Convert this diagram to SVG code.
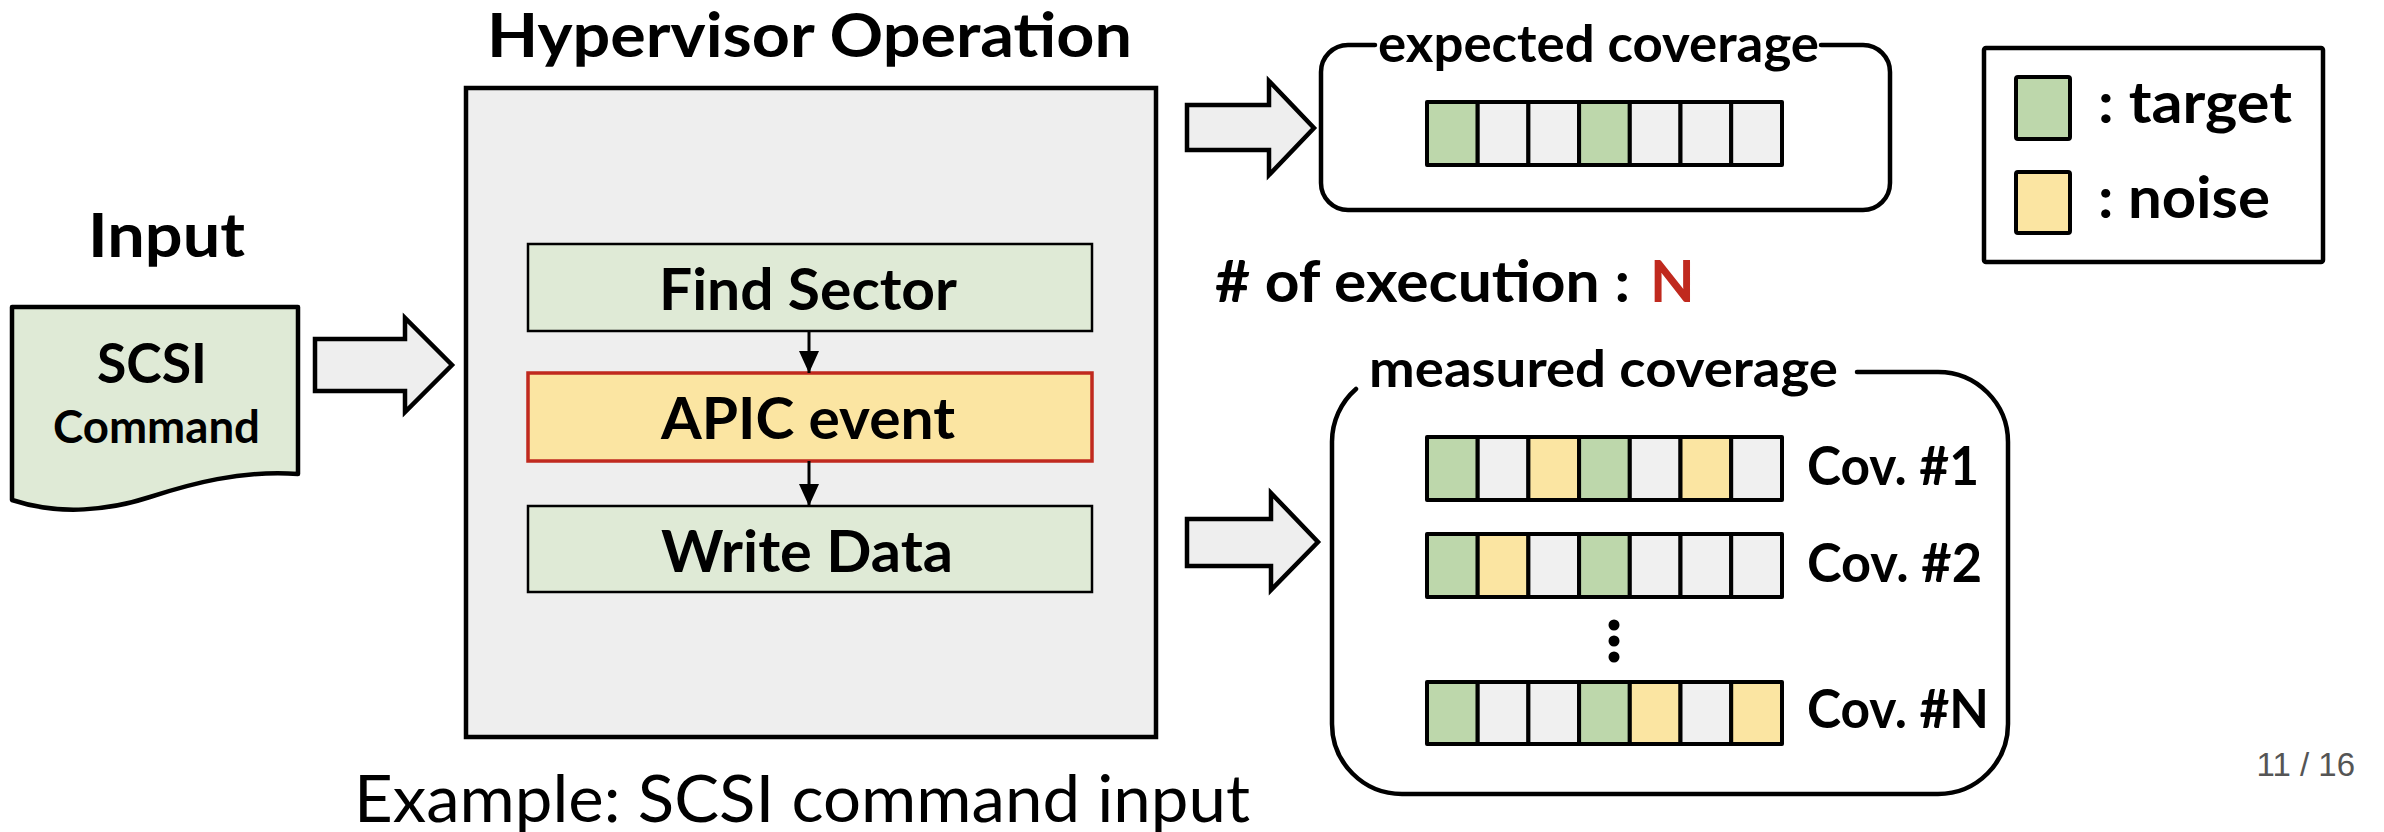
<svg xmlns="http://www.w3.org/2000/svg" width="2384" height="832" viewBox="0 0 2384 832">
<defs>
<style>
.t{font-family:Lato,"Open Sans","DejaVu Sans",sans-serif;font-weight:700;fill:#000}
.r{font-family:Lato,"Open Sans","DejaVu Sans",sans-serif;font-weight:400;fill:#000}
.blk{fill:#eeeeee;stroke:#000;stroke-width:4.5;stroke-linejoin:miter}
.step{fill:#dfead6;stroke:#000;stroke-width:2.5}
.cell{stroke:#000;stroke-width:4;stroke-linejoin:round}
.g{fill:#bdd7ab}
.y{fill:#fbe5a2}
.e{fill:#f0f0f0}
.frame{fill:none;stroke:#000;stroke-width:4.5;stroke-linecap:round}
</style>
<marker id="ah" viewBox="0 0 22 20" refX="22" refY="10" markerWidth="22" markerHeight="20" markerUnits="userSpaceOnUse" orient="auto">
<path d="M0,0 L22,10 L0,20 Z" fill="#000"/>
</marker>
</defs>
<rect width="2384" height="832" fill="#fff"/>

<g id="input">
<text class="t" x="166.5" y="257" font-size="62" text-anchor="middle" textLength="157" lengthAdjust="spacingAndGlyphs">Input</text>
<path d="M12,307 H298 V474 C240,470 190,484 150,497 C110,510 60,516 12,500 Z" fill="#dfead6" stroke="#000" stroke-width="4.5" stroke-linejoin="round"/>
<text class="t" x="152" y="383" font-size="55" text-anchor="middle" textLength="110" lengthAdjust="spacingAndGlyphs">SCSI</text>
<text class="t" x="156.5" y="443" font-size="46" text-anchor="middle" textLength="207" lengthAdjust="spacingAndGlyphs">Command</text>
</g>

<g id="hypervisor">
<text class="t" x="809.5" y="57" font-size="62" text-anchor="middle" textLength="645" lengthAdjust="spacingAndGlyphs">Hypervisor Operation</text>
<rect x="466" y="88" width="690" height="649" fill="#eeeeee" stroke="#000" stroke-width="4.5"/>
<text class="r" x="802" y="822" font-size="65" text-anchor="middle" textLength="896" lengthAdjust="spacingAndGlyphs">Example: SCSI command input</text>
</g>

<g id="find-sector">
<rect class="step" x="528" y="244" width="564" height="87"/>
<text class="t" x="808" y="310" font-size="58" text-anchor="middle" textLength="298" lengthAdjust="spacingAndGlyphs">Find Sector</text>
</g>

<g id="apic-event">
<rect x="528" y="373" width="564" height="88" fill="#fbe5a2" stroke="#c0291e" stroke-width="3.5"/>
<text class="t" x="808" y="439" font-size="58" text-anchor="middle" textLength="294" lengthAdjust="spacingAndGlyphs">APIC event</text>
</g>

<g id="write-data">
<rect class="step" x="528" y="506" width="564" height="86"/>
<text class="t" x="807" y="572" font-size="58" text-anchor="middle" textLength="292" lengthAdjust="spacingAndGlyphs">Write Data</text>
</g>

<g id="expected-coverage">
<path class="frame" d="M1375,45 H1348 A27,27 0 0 0 1321,72 V183 A27,27 0 0 0 1348,210 H1863 A27,27 0 0 0 1890,183 V72 A27,27 0 0 0 1863,45 H1821"/>
<text class="t" x="1598.5" y="62" font-size="51" text-anchor="middle" textLength="441" lengthAdjust="spacingAndGlyphs">expected coverage</text>
<rect class="cell g" x="1427" y="102" width="50.7" height="63"/>
<rect class="cell e" x="1477.7" y="102" width="50.7" height="63"/>
<rect class="cell e" x="1528.4" y="102" width="50.7" height="63"/>
<rect class="cell g" x="1579.1" y="102" width="50.7" height="63"/>
<rect class="cell e" x="1629.8" y="102" width="50.7" height="63"/>
<rect class="cell e" x="1680.5" y="102" width="50.7" height="63"/>
<rect class="cell e" x="1731.2" y="102" width="50.8" height="63"/>
</g>

<g id="legend">
<rect x="1984" y="48" width="339" height="214" fill="#fff" stroke="#000" stroke-width="4.5" rx="2"/>
<rect class="cell g" x="2016" y="77" width="54" height="62" rx="2"/>
<text class="t" x="2098" y="123" font-size="58" textLength="194" lengthAdjust="spacingAndGlyphs">: target</text>
<rect class="cell y" x="2016" y="172" width="54" height="61" rx="2"/>
<text class="t" x="2098" y="218" font-size="58" textLength="172" lengthAdjust="spacingAndGlyphs">: noise</text>
</g>

<g id="executions">
<text class="t" x="1215" y="302" font-size="58" textLength="415" lengthAdjust="spacingAndGlyphs"># of execution :</text>
<text x="1650" y="302" font-family="Lato,'Open Sans','DejaVu Sans',sans-serif" font-weight="700" font-size="58" fill="#c0291e">N</text>
</g>

<g id="measured-coverage">
<path class="frame" d="M1857,372 H1938 A70,70 0 0 1 2008,442 V724 A70,70 0 0 1 1938,794 H1402 A70,70 0 0 1 1332,724 V442 A70,70 0 0 1 1356,389"/>
<text class="t" x="1603.5" y="387" font-size="52" text-anchor="middle" textLength="469" lengthAdjust="spacingAndGlyphs">measured coverage</text>
<g id="cov-1">
<rect class="cell g" x="1427" y="437" width="50.7" height="63"/>
<rect class="cell e" x="1477.7" y="437" width="50.7" height="63"/>
<rect class="cell y" x="1528.4" y="437" width="50.7" height="63"/>
<rect class="cell g" x="1579.1" y="437" width="50.7" height="63"/>
<rect class="cell e" x="1629.8" y="437" width="50.7" height="63"/>
<rect class="cell y" x="1680.5" y="437" width="50.7" height="63"/>
<rect class="cell e" x="1731.2" y="437" width="50.8" height="63"/>
<text class="t" x="1807" y="485" font-size="53" textLength="172" lengthAdjust="spacingAndGlyphs">Cov. #1</text>
</g>
<g id="cov-2">
<rect class="cell g" x="1427" y="534" width="50.7" height="63"/>
<rect class="cell y" x="1477.7" y="534" width="50.7" height="63"/>
<rect class="cell e" x="1528.4" y="534" width="50.7" height="63"/>
<rect class="cell g" x="1579.1" y="534" width="50.7" height="63"/>
<rect class="cell e" x="1629.8" y="534" width="50.7" height="63"/>
<rect class="cell e" x="1680.5" y="534" width="50.7" height="63"/>
<rect class="cell e" x="1731.2" y="534" width="50.8" height="63"/>
<text class="t" x="1807" y="582" font-size="53" textLength="175" lengthAdjust="spacingAndGlyphs">Cov. #2</text>
</g>
<circle cx="1614" cy="625" r="5.5" fill="#000"/>
<circle cx="1614" cy="641" r="5.5" fill="#000"/>
<circle cx="1614" cy="657" r="5.5" fill="#000"/>
<g id="cov-n">
<rect class="cell g" x="1427" y="682" width="50.7" height="62"/>
<rect class="cell e" x="1477.7" y="682" width="50.7" height="62"/>
<rect class="cell e" x="1528.4" y="682" width="50.7" height="62"/>
<rect class="cell g" x="1579.1" y="682" width="50.7" height="62"/>
<rect class="cell y" x="1629.8" y="682" width="50.7" height="62"/>
<rect class="cell e" x="1680.5" y="682" width="50.7" height="62"/>
<rect class="cell y" x="1731.2" y="682" width="50.8" height="62"/>
<text class="t" x="1807" y="728" font-size="53" textLength="182" lengthAdjust="spacingAndGlyphs">Cov. #N</text>
</g>
</g>

<g id="page-number">
<text x="2355" y="776" font-family="'Liberation Sans',Arial,sans-serif" font-size="33" fill="#555" text-anchor="end">11 / 16</text>
</g>

<g id="connectors">
<polygon class="blk" points="315,339 405,339 405,318 452,365 405,412 405,391 315,391"/>
<polygon class="blk" points="1187,105 1269,105 1269,81 1314,128 1269,175 1269,150 1187,150"/>
<polygon class="blk" points="1187,519 1271,519 1271,493 1318,542 1271,590 1271,566 1187,566"/>
<line x1="809" y1="331" x2="809" y2="373" stroke="#000" stroke-width="3" marker-end="url(#ah)"/>
<line x1="809" y1="461" x2="809" y2="506" stroke="#000" stroke-width="3" marker-end="url(#ah)"/>
</g>
</svg>
